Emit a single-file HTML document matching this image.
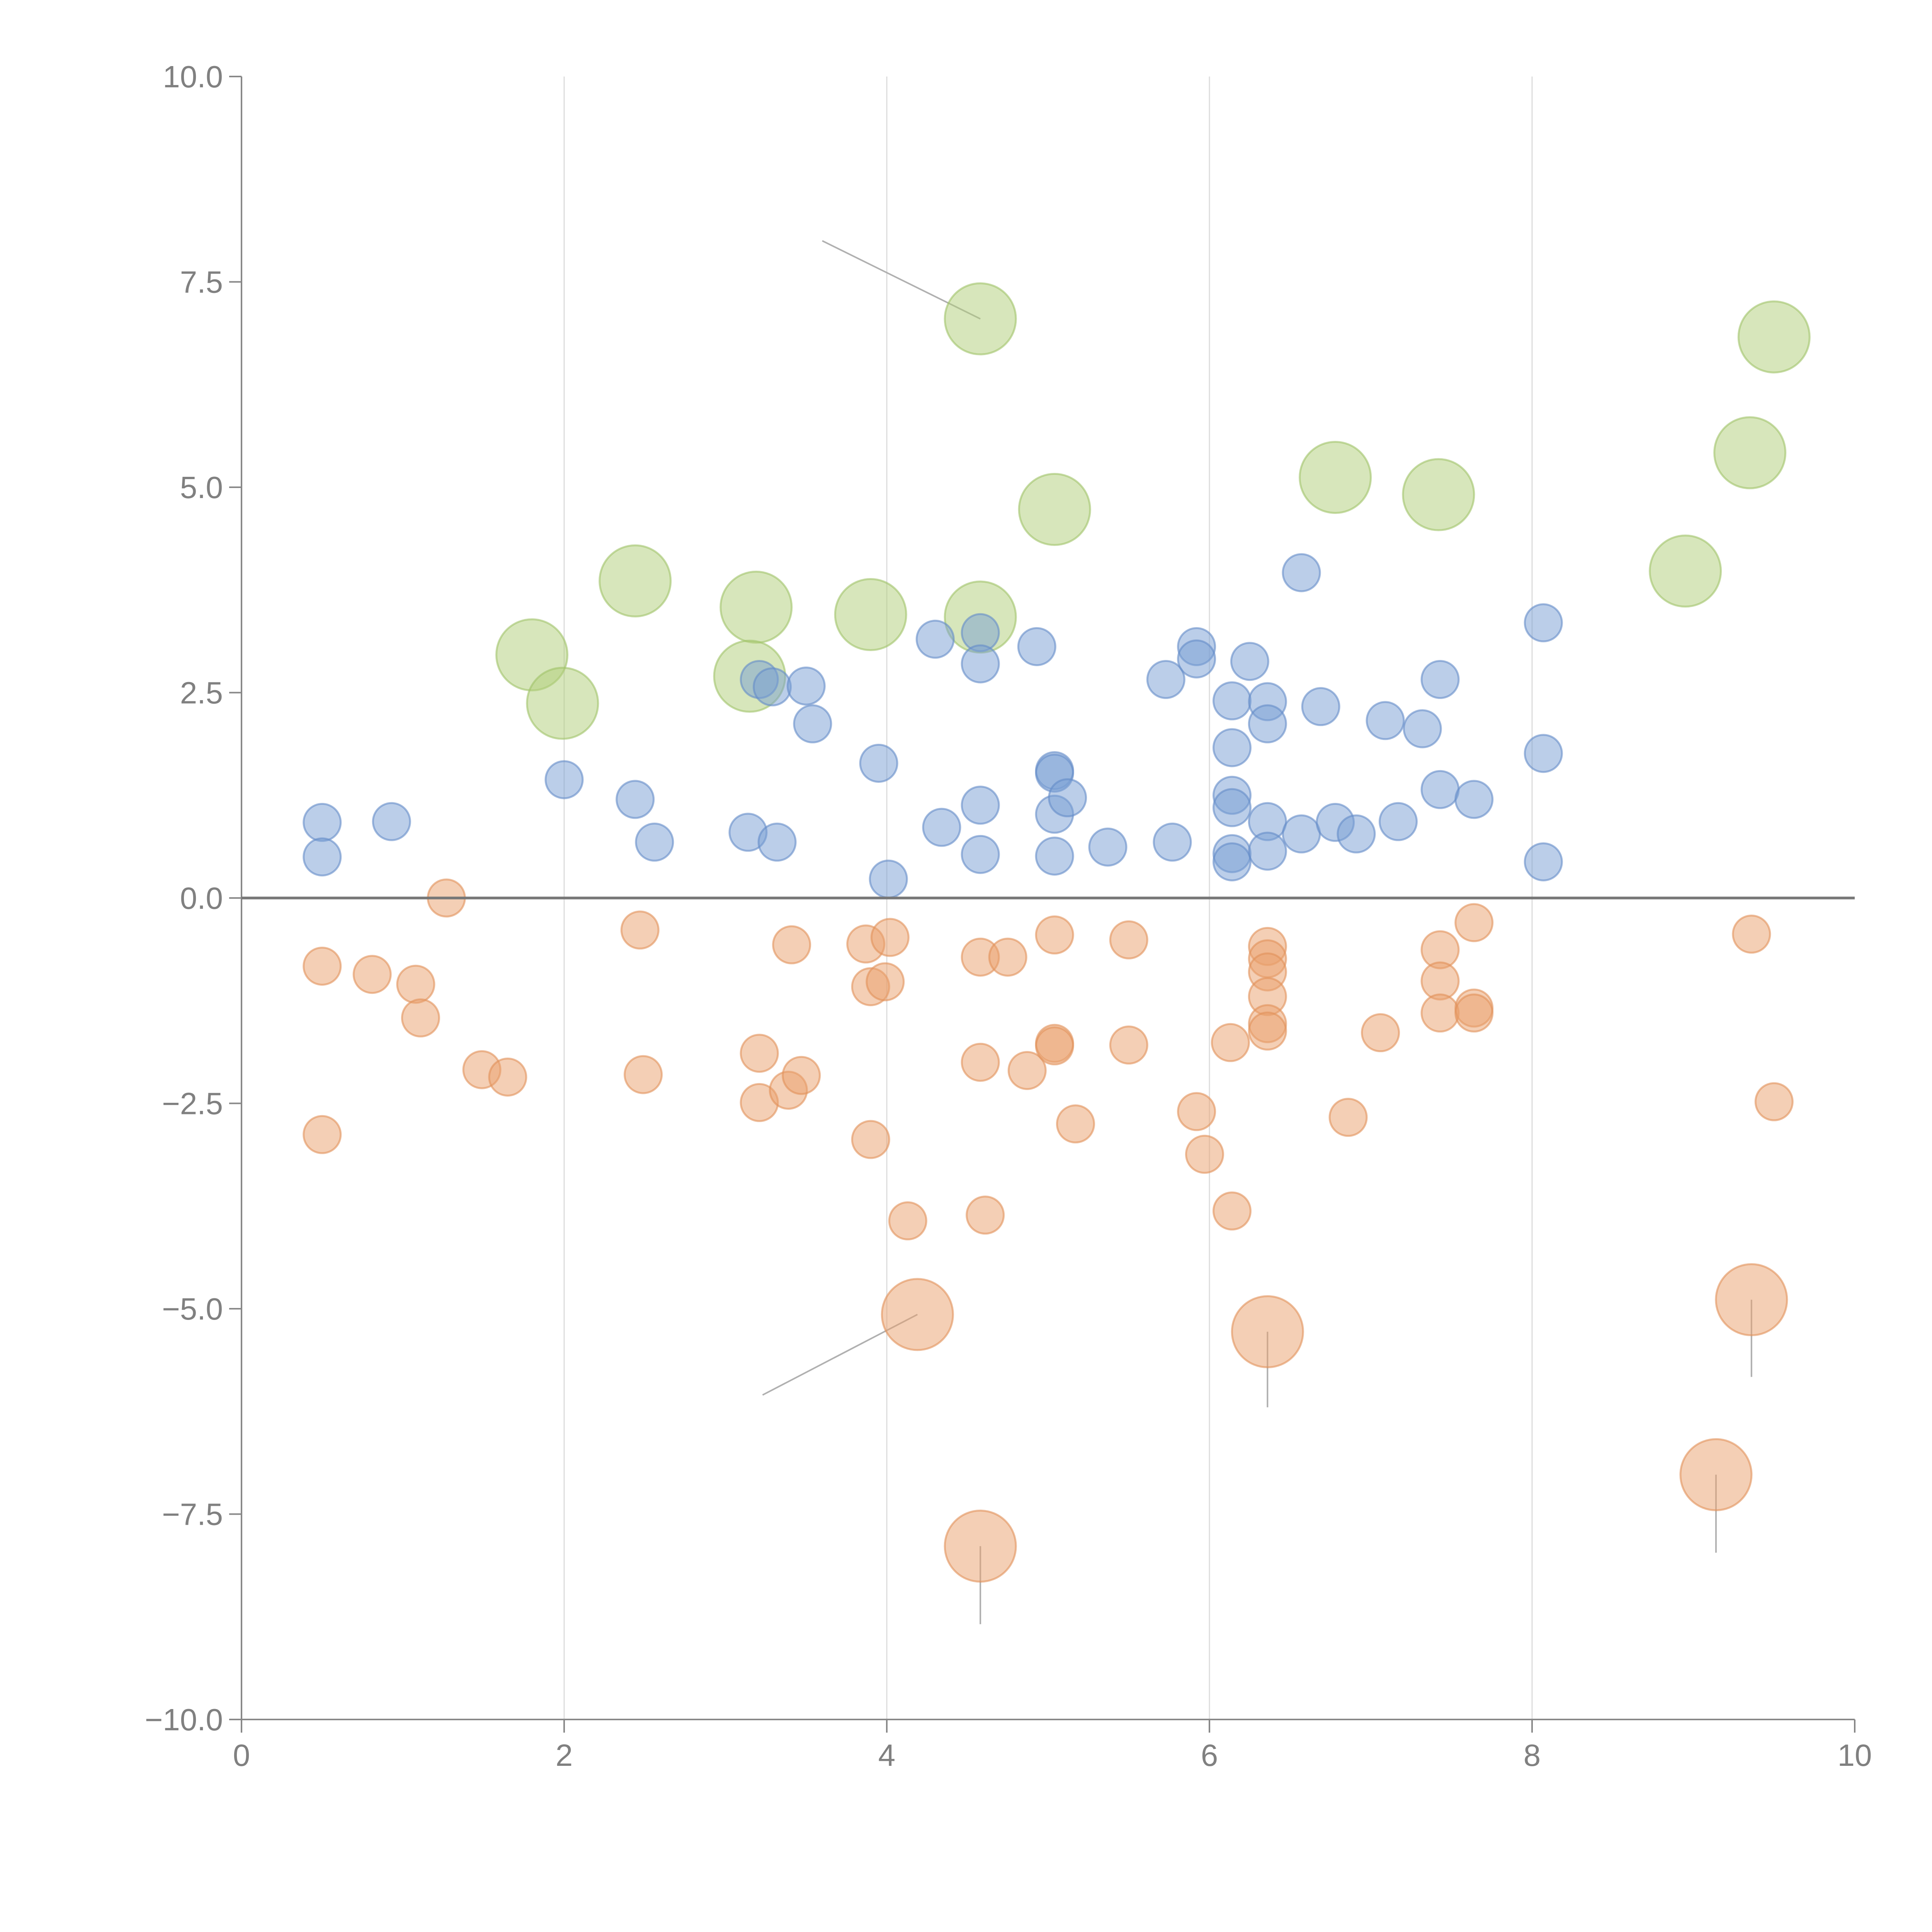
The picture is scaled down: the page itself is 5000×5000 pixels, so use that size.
<!DOCTYPE html>
<html><head><meta charset="utf-8"><style>
html,body{margin:0;padding:0;background:#fff}
svg{display:block}
text{font-family:"Liberation Sans",sans-serif;fill:#808080}
</style></head><body>
<svg id="chart" width="5000" height="5000" viewBox="0 0 5000 5000" xmlns="http://www.w3.org/2000/svg"></svg>
<script>
const xTicks=[0,2,4,6,8,10];
const xTickLabels=["0","2","4","6","8","10"];
const yTicks=[-10,-7.5,-5,-2.5,0,2.5,5,7.5,10];
const yTickLabels=["\u221210.0","\u22127.5","\u22125.0","\u22122.5","0.0","2.5","5.0","7.5","10.0"];
const greenX=[4.58,9.50,9.35,6.78,7.42,5.04,8.95,2.44,3.19,3.90,4.58,1.80,3.15,1.99];
const greenY=[7.05,6.83,5.42,5.12,4.91,4.73,3.98,3.86,3.54,3.45,3.42,2.96,2.70,2.37];
const blueX=[0.50,0.50,0.93,2.00,2.44,2.56,3.14,3.32,3.21,3.29,3.50,3.54,3.95,4.01,4.30,4.34,4.58,4.58,4.58,4.58,4.93,5.04,5.04,5.04,5.12,5.04,5.37,5.73,5.77,5.92,5.92,6.14,6.14,6.14,6.14,6.14,6.14,6.25,6.36,6.36,6.36,6.36,6.57,6.57,6.69,6.78,6.91,7.09,7.17,7.32,7.43,7.43,7.64,8.07,8.07,8.07];
const blueY=[0.92,0.50,0.93,1.44,1.20,0.68,0.80,0.68,2.66,2.57,2.58,2.12,1.64,0.23,3.15,0.86,3.23,2.85,1.13,0.53,3.06,1.55,1.52,1.02,1.22,0.51,0.62,2.66,0.68,3.06,2.91,2.40,1.83,1.25,1.10,0.54,0.44,2.88,2.39,2.12,0.93,0.57,3.96,0.78,2.33,0.92,0.78,2.16,0.93,2.06,2.66,1.32,1.20,3.35,1.76,0.44];
const orangeX=[1.27,0.50,0.81,1.08,1.11,1.49,1.65,0.50,2.47,2.49,3.21,3.21,3.39,3.47,3.41,3.87,4.02,3.90,3.99,3.90,4.13,4.58,4.75,4.58,4.61,4.87,5.04,5.04,5.04,5.17,5.50,5.50,5.92,5.97,6.13,6.14,6.36,6.36,6.36,6.36,6.36,6.36,6.86,7.06,7.43,7.43,7.43,7.64,7.64,7.64,9.36,9.50];
const orangeY=[0.00,-0.83,-0.93,-1.05,-1.46,-2.09,-2.18,-2.88,-0.39,-2.15,-1.89,-2.49,-2.34,-2.16,-0.57,-0.56,-0.48,-1.08,-1.02,-2.94,-3.93,-0.72,-0.72,-2.00,-3.86,-2.10,-0.45,-1.77,-1.80,-2.75,-0.51,-1.79,-2.60,-3.12,-1.76,-3.81,-0.59,-0.74,-0.90,-1.20,-1.53,-1.62,-2.67,-1.64,-0.63,-1.01,-1.40,-0.30,-1.34,-1.40,-0.44,-2.48];
const bigOrangeX=[4.19,6.36,9.36,9.14,4.58];
const bigOrangeY=[-5.07,-5.28,-4.89,-7.02,-7.89];
const leaderFromX=[4.58,4.19,6.36,9.36,9.14,4.58];
const leaderFromY=[7.05,-5.07,-5.28,-4.89,-7.02,-7.89];
const leaderToX=[3.60,3.23,6.36,9.36,9.14,4.58];
const leaderToY=[8.0,-6.05,-6.2,-5.83,-7.97,-8.84];

const NS="http://www.w3.org/2000/svg";
const svg=document.getElementById('chart');
const X0=625,X1=4800,Y0=4450,Y1=198;
const sx=v=>X0+(v-0)/(10-0)*(X1-X0);
const sy=v=>Y0-(v+10)/20*(Y0-Y1);
function mk(tag,attrs,parent){const e=document.createElementNS(NS,tag);for(const k in attrs)e.setAttribute(k,attrs[k]);(parent||svg).appendChild(e);return e;}

const grid=mk('g',{});


[2,4,6,8].forEach(v=>{const l=mk('line',{x1:sx(v),x2:sx(v),y1:Y1,y2:Y0,stroke:'#dcdcdc','stroke-width':3},grid);

});

// axes
const yAxis=mk('g',{});


mk('line',{x1:X0,x2:X0,y1:Y1,y2:Y0,stroke:'#888','stroke-width':4},yAxis);
yTicks.forEach((v,i)=>{mk('line',{x1:X0-32,x2:X0,y1:sy(v),y2:sy(v),stroke:'#888','stroke-width':4},yAxis);
const t=mk('text',{x:X0-48,y:sy(v)+28,'text-anchor':'end','font-size':80},yAxis);t.textContent=yTickLabels[i];

});
const xAxis=mk('g',{});


mk('line',{x1:X0,x2:X1,y1:Y0,y2:Y0,stroke:'#888','stroke-width':4},xAxis);
xTicks.forEach((v,i)=>{mk('line',{x1:sx(v),x2:sx(v),y1:Y0,y2:Y0+34,stroke:'#888','stroke-width':4},xAxis);
const t=mk('text',{x:sx(v),y:Y0+120,'text-anchor':'middle','font-size':80},xAxis);t.textContent=xTickLabels[i];

});

// leader lines
const leaders=mk('g',{});


leaderFromX.forEach((v,i)=>{const l=mk('line',{x1:sx(v),y1:sy(leaderFromY[i]),x2:sx(leaderToX[i]),y2:sy(leaderToY[i]),stroke:'#b0b0b0','stroke-width':4},leaders);

});

function series(xs,ys,r,fill,stroke,name){
  const g=mk('g',{});
  
  
  xs.forEach((v,i)=>{const c=mk('circle',{cx:sx(v),cy:sy(ys[i]),r:r,fill:fill,stroke:stroke,'stroke-width':5},g);
  
  });
}
series(greenX,greenY,92,'rgba(175,205,120,0.5)','rgba(160,195,105,0.6)','green');
series(blueX,blueY,48,'rgba(120,158,212,0.5)','rgba(100,140,200,0.6)','blue');
series(orangeX,orangeY,48,'rgba(234,160,108,0.5)','rgba(225,145,90,0.6)','orange');
series(bigOrangeX,bigOrangeY,92,'rgba(234,160,108,0.5)','rgba(225,145,90,0.6)','orange-large');

// zero line
const z=mk('line',{x1:X0,x2:X1,y1:sy(0),y2:sy(0),stroke:'#777','stroke-width':7});


</script>
</body></html>
